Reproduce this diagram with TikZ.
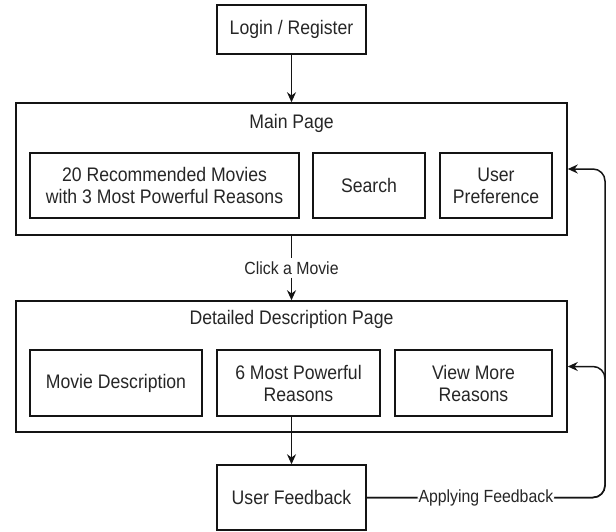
\documentclass[tikz,border=0pt]{standalone}
\usepackage{fontspec}
\setmainfont{Liberation Sans}[FakeStretch=0.9]
\usetikzlibrary{arrows.meta,calc}
\definecolor{txt}{HTML}{262626}
\definecolor{ln}{HTML}{141414}
\tikzset{
  box/.style={draw=ln, line width=1.5pt, rectangle, inner sep=0pt, text=txt,
    font=\fontsize{19.6}{22}\selectfont, align=center},
  lbl/.style={fill=white, text=txt, font=\fontsize{17.6}{20}\selectfont, inner sep=1pt},
  arr/.style={draw=ln, line width=1.5pt, -{Stealth[length=10pt,width=9pt]}},
  ln/.style={draw=ln, line width=1.5pt},
}
\begin{document}
\begin{tikzpicture}[x=1pt,y=-1pt]
\useasboundingbox (0,0) rectangle (616,531);
% outer pages
\node[box, minimum width=551pt, minimum height=132pt] (main) at (291.5,169) {};
\node[text=txt, font=\fontsize{19.6}{22}\selectfont] (mainlbl) at (291.5,123) {Main Page};
\node[box, minimum width=551pt, minimum height=131pt] (detail) at (291.5,366.5) {};
\node[text=txt, font=\fontsize{19.6}{22}\selectfont] (detlbl) at (291.5,319) {Detailed Description Page};
% top and bottom
\node[box, minimum width=149pt, minimum height=49pt] (login) at (291.5,29.5) {Login / Register};
\node[box, minimum width=149pt, minimum height=65pt] (uf) at (291.5,497.5) {User Feedback};
% main inner
\node[box, minimum width=269pt, minimum height=65pt] (rec) at (164.5,185.5) {20 Recommended Movies\\with 3 Most Powerful Reasons};
\node[box, minimum width=112pt, minimum height=65pt] (search) at (369,185.5) {Search};
\node[box, minimum width=112pt, minimum height=65pt] (pref) at (496,185.5) {User\\Preference};
% detail inner
\node[box, minimum width=172pt, minimum height=66pt] (md) at (116,383) {Movie Description};
\node[box, minimum width=163pt, minimum height=66pt] (six) at (298.5,383) {6 Most Powerful\\Reasons};
\node[box, minimum width=157pt, minimum height=66pt] (more) at (473.5,383) {View More\\Reasons};
% edge label
\node[lbl, inner ysep=3pt] (click) at (291.5,268) {Click a Movie};
% feedback column
\coordinate (fb) at (605,0);
% connectors
\draw[arr] (login.south) -- (main.north);
\draw[ln] (main.south) -- (click.north);
\draw[arr] (click.south) -- (detail.north);
\draw[arr] (six.south -| uf.north) -- (uf.north);
\draw[arr, rounded corners=12pt] (uf.east) -| (fb |- detail.east) -- (detail.east);
\draw[arr, rounded corners=12pt] (uf.east) -| node[lbl, pos=0.25] (apply) {Applying Feedback} (fb |- main.east) -- (main.east);
\end{tikzpicture}
\end{document}
